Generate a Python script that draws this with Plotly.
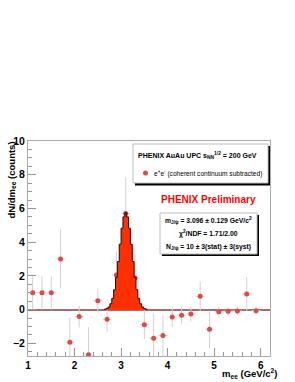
import plotly.graph_objects as go

# ---- data ----
mass_bins = [1.1, 1.3, 1.5, 1.7, 1.9, 2.1, 2.3, 2.5, 2.7, 2.9, 3.1, 3.3, 3.5, 3.7, 3.9,
             4.1, 4.3, 4.5, 4.7, 4.9, 5.1, 5.3, 5.5, 5.7, 5.9]
counts = [1.0, 1.0, 1.0, 3.0, -1.93, -0.41, -2.68, 0.53, -0.57, 2.05, 5.7, 1.87, -0.89, -1.69, -1.54,
          -0.43, -0.33, -0.26, 0.79, -1.16, -0.12, -0.10, -0.08, 0.93, -0.06]
count_err = [1.0, 1.0, 1.0, 1.75, 1.5, 0.65, 1.65, 0.72, 0.75, 1.4, 2.15, 1.4, 0.85, 1.45, 1.2,
             0.6, 0.5, 0.45, 0.87, 1.1, 0.3, 0.25, 0.25, 1.0, 0.2]
bin_half_width = [0.1] * len(mass_bins)

peak_bin_width = 0.04
peak_centers = [2.66, 2.70, 2.74, 2.78, 2.82, 2.86, 2.90, 2.94, 2.98, 3.02, 3.06, 3.10,
                3.14, 3.18, 3.22, 3.26, 3.30, 3.34, 3.38, 3.42, 3.46, 3.50, 3.54]
peak_heights = [0.03, 0.07, 0.16, 0.35, 0.67, 1.18, 1.92, 2.85, 3.88, 4.83, 5.50, 5.75,
                5.50, 4.83, 3.88, 2.85, 1.92, 1.18, 0.67, 0.35, 0.16, 0.07, 0.03]

x_ticks = [1, 2, 3, 4, 5, 6]
y_ticks = [-2, 0, 2, 4, 6, 8, 10]

# ---- build stepped histogram outline ----
edges = [c - peak_bin_width / 2 for c in peak_centers]
last_edge = peak_centers[-1] + peak_bin_width / 2
hx = [edges[0]] + edges + [last_edge, last_edge]
hy = [0] + peak_heights + [peak_heights[-1], 0]

fig = go.Figure()

fig.add_trace(go.Scatter(
    x=mass_bins, y=counts, mode="markers",
    marker=dict(color="rgb(222,72,72)", size=5),
    error_y=dict(type="data", array=count_err, color="rgb(210,210,210)", thickness=1, width=0),
    error_x=dict(type="data", array=bin_half_width, color="rgb(210,210,210)", thickness=1, width=0),
    showlegend=False, hoverinfo="skip"))

fig.add_trace(go.Scatter(
    x=hx, y=hy, mode="lines", line=dict(color="rgb(50,0,0)", width=1, shape="hv"),
    fill="tozeroy", fillcolor="rgb(255,48,0)", showlegend=False, hoverinfo="skip"))

W, H = 295, 382
L, R, T, B = 28, 25, 141, 26
pw, ph = W - L - R, H - T - B


def px(x):
    return (x - L) / pw


def py(y):
    return (H - B - y) / ph


shapes = []
# legend box 1 with shadow
shapes.append(dict(type="rect", xref="paper", yref="paper", x0=px(135), x1=px(270), y0=py(185.5), y1=py(146),
                   fillcolor="black", line=dict(width=0), layer="above"))
shapes.append(dict(type="rect", xref="paper", yref="paper", x0=px(133), x1=px(268), y0=py(183), y1=py(144),
                   fillcolor="white", line=dict(color="rgb(190,190,190)", width=1), layer="above"))
# box 2 with shadow
shapes.append(dict(type="rect", xref="paper", yref="paper", x0=px(162), x1=px(259), y0=py(256), y1=py(215),
                   fillcolor="black", line=dict(width=0), layer="above"))
shapes.append(dict(type="rect", xref="paper", yref="paper", x0=px(160), x1=px(257), y0=py(254), y1=py(213),
                   fillcolor="white", line=dict(color="rgb(190,190,190)", width=1), layer="above"))
# legend marker
shapes.append(dict(type="circle", xref="paper", yref="paper", x0=px(143), x1=px(148), y0=py(175.5), y1=py(170.5),
                   fillcolor="rgb(222,72,72)", line=dict(width=0), layer="above"))

F = "Liberation Sans"
ann = []
ann.append(dict(text="<b>PHENIX AuAu UPC s<sub>NN</sub><sup>1/2</sup> = 200 GeV</b>", x=px(136), y=py(155),
                xref="paper", yref="paper", xanchor="left", yanchor="middle", showarrow=False,
                font=dict(family=F, size=7, color="black")))
ann.append(dict(text="e<sup>+</sup>e<sup>-</sup> (coherent continuum subtracted)", x=px(152), y=py(173),
                xref="paper", yref="paper", xanchor="left", yanchor="middle", showarrow=False,
                font=dict(family=F, size=6.6, color="black")))
ann.append(dict(text="<b>PHENIX Preliminary</b>", x=px(208), y=py(199),
                xref="paper", yref="paper", xanchor="center", yanchor="middle", showarrow=False,
                font=dict(family=F, size=10, color="rgb(255,0,0)")))
ann.append(dict(text="<b>m<sub>J/ψ</sub> = 3.096 ± 0.129 GeV/c<sup>2</sup></b>", x=px(208.5), y=py(220),
                xref="paper", yref="paper", xanchor="center", yanchor="middle", showarrow=False,
                font=dict(family=F, size=6.8, color="black")))
ann.append(dict(text="<b>χ<sup>2</sup>/NDF = 1.71/2.00</b>", x=px(208.5), y=py(233.5),
                xref="paper", yref="paper", xanchor="center", yanchor="middle", showarrow=False,
                font=dict(family=F, size=6.8, color="black")))
ann.append(dict(text="<b>N<sub>J/ψ</sub> = 10 ± 3(stat) ± 3(syst)</b>", x=px(208.5), y=py(246.5),
                xref="paper", yref="paper", xanchor="center", yanchor="middle", showarrow=False,
                font=dict(family=F, size=6.8, color="black")))
# axis titles
ann.append(dict(text="<b>dN/dm<sub>ee</sub> (counts)</b>", x=px(12), y=py(140),
                xref="paper", yref="paper", xanchor="center", yanchor="top", textangle=-90, showarrow=False,
                font=dict(family=F, size=9.5, color="black")))
ann.append(dict(text="<b>m<sub>ee</sub> (GeV/c<sup>2</sup>)</b>", x=px(279), y=py(373),
                xref="paper", yref="paper", xanchor="right", yanchor="middle", showarrow=False,
                font=dict(family=F, size=9.5, color="black")))

fig.update_layout(
    width=W, height=H, margin=dict(l=L, r=R, t=T, b=B, pad=0),
    paper_bgcolor="white", plot_bgcolor="white",
    shapes=shapes, annotations=ann, showlegend=False,
    xaxis=dict(range=[1, 6.2], tickvals=x_ticks, ticks="inside", ticklen=8, tickcolor="rgb(150,150,150)",
               showgrid=False, zeroline=False, showline=True, linecolor="rgb(170,170,170)", mirror=True,
               tickfont=dict(family=F, size=10, color="black", weight="bold"),
               minor=dict(dtick=0.2, ticks="inside", ticklen=4, tickcolor="rgb(150,150,150)", showgrid=False)),
    yaxis=dict(range=[-2.75, 10], tickvals=y_ticks, ticks="inside", ticklen=8, tickcolor="rgb(150,150,150)",
               showgrid=False, zeroline=True, zerolinecolor="rgb(165,110,110)", zerolinewidth=2,
               showline=True, linecolor="rgb(170,170,170)", mirror=True,
               tickfont=dict(family=F, size=10.5, color="black", weight="bold"),
               minor=dict(dtick=0.5, ticks="inside", ticklen=4, tickcolor="rgb(150,150,150)", showgrid=False)),
)

fig.write_html("out.html", config={"displayModeBar": False},
               post_script="document.body.style.margin='0';")
